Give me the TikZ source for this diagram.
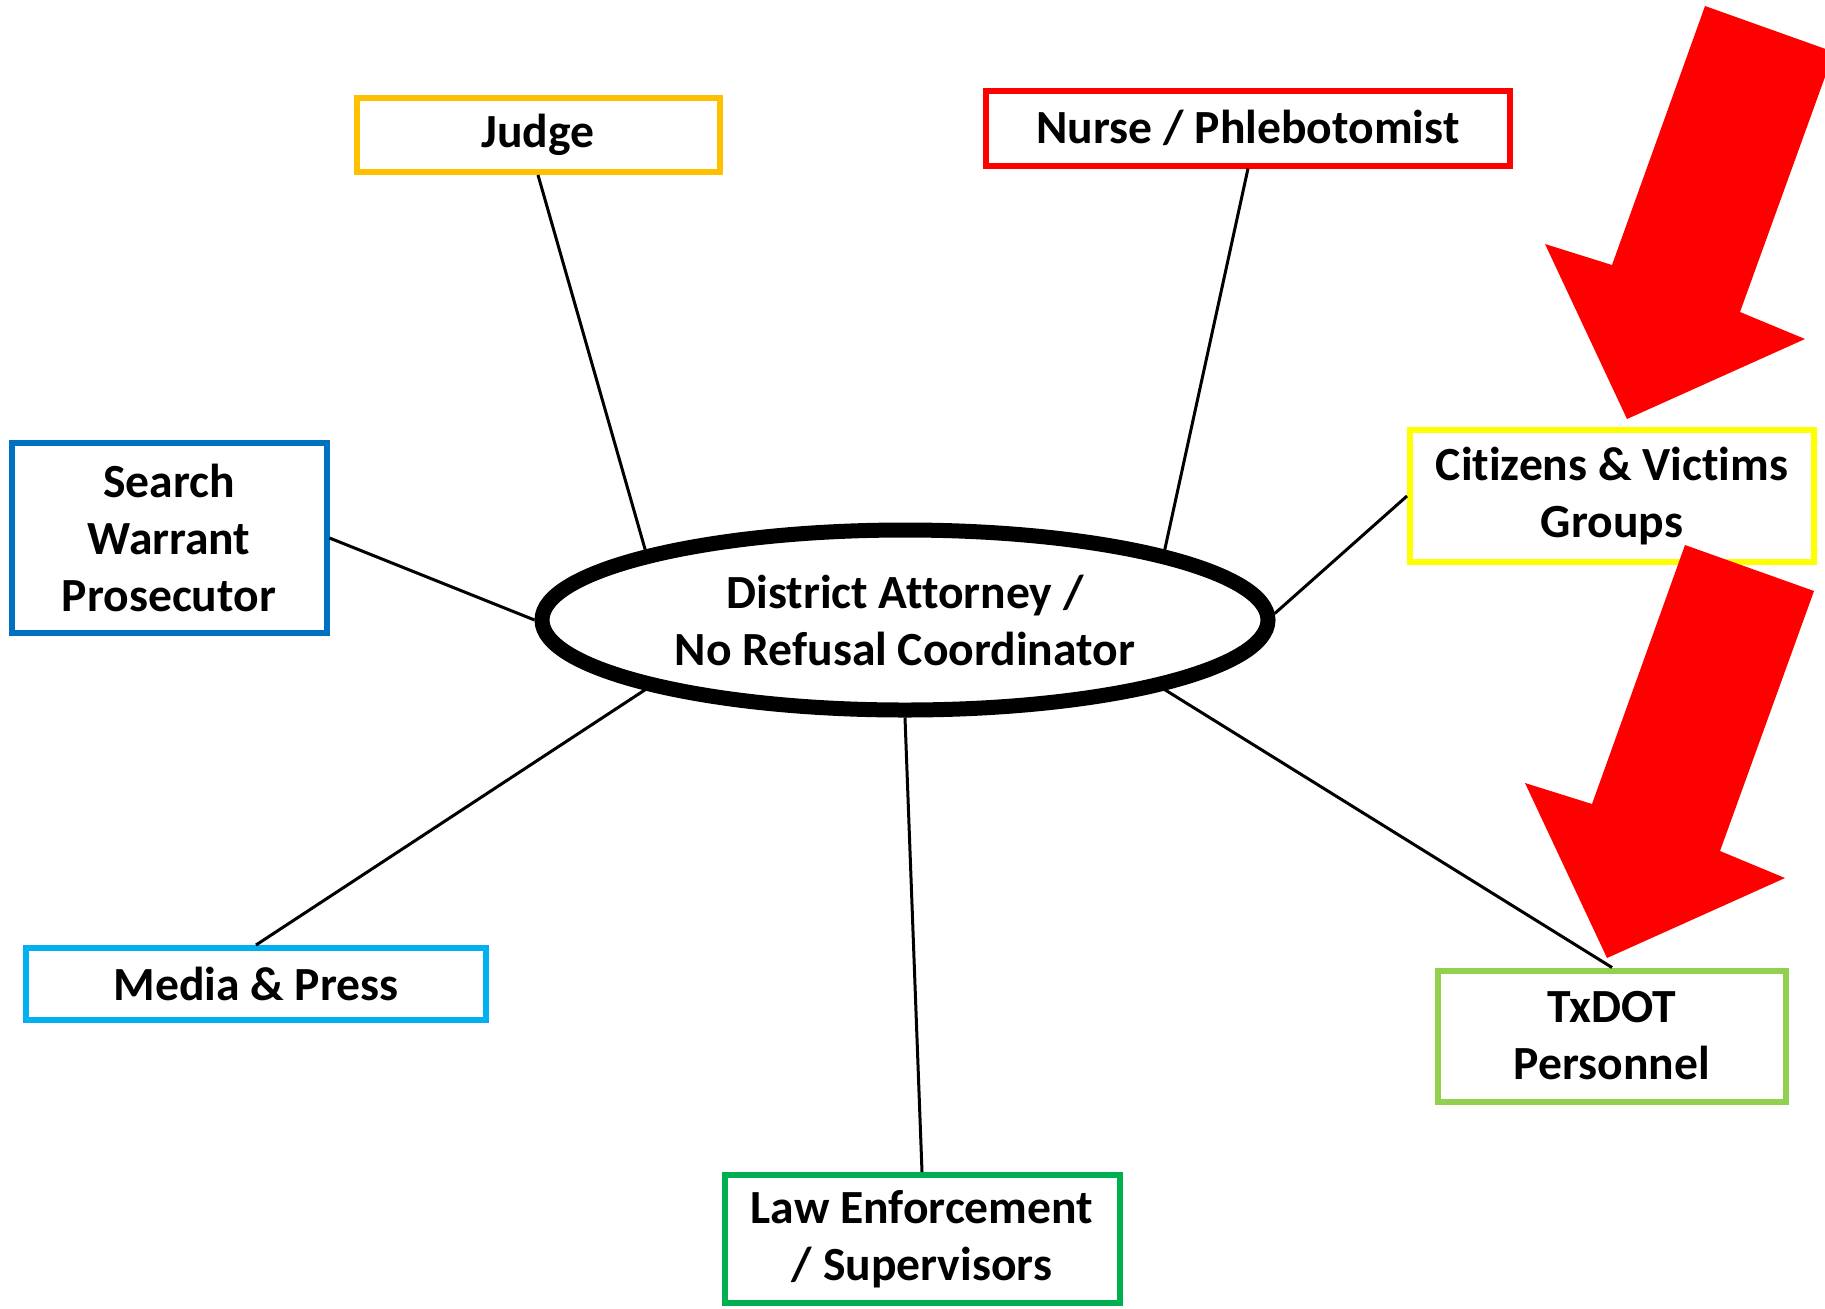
\documentclass[tikz,border=0pt]{standalone}
\usepackage{fontspec}
\setmainfont{Carlito}[Ligatures={NoCommon}]
\usetikzlibrary{shapes.geometric}
\definecolor{judgec}{HTML}{FFC000}
\definecolor{nursec}{HTML}{FF0000}
\definecolor{searchc}{HTML}{0070C0}
\definecolor{citizc}{HTML}{FFFF00}
\definecolor{mediac}{HTML}{00B0F0}
\definecolor{lawc}{HTML}{00B050}
\definecolor{txdotc}{HTML}{92D050}
\begin{document}
\begin{tikzpicture}[x=0.5pt,y=-0.5pt,
  lbl/.style={font=\bfseries\fontsize{23.8}{28.5}\selectfont},
  box/.style={draw=#1, line width=3pt, rectangle, align=center, lbl, inner sep=0pt, fill=white},
  link/.style={line width=1.5pt, draw=black},
  bigarrow/.style={fill=red, draw=none}]
\useasboundingbox (0,0) rectangle (1825,1308);
\clip (0,0) rectangle (1825,1308);
\fill[white] (0,0) rectangle (1825,1308);
% boxes
\node[box=judgec, minimum width=181.5pt, minimum height=37pt] (judge) at (538,135) {Judge};
\node[box=nursec, minimum width=262pt, minimum height=37.5pt] (nurse) at (1248,128) {Nurse / Phlebotomist};
\node[box=searchc, minimum width=157.5pt, minimum height=95pt] (search) at (169,538) {Search\\Warrant\\Prosecutor};
\node[box=citizc, minimum width=202pt, minimum height=66pt] (citiz) at (1612,496) {Citizens \& Victims\\Groups};
\node[box=mediac, minimum width=230pt, minimum height=36pt] (media) at (256,984) {Media \& Press};
\node[box=lawc, minimum width=197.5pt, minimum height=64pt] (law) at (922,1239) {Law Enforcement\\/ Supervisors};
\node[box=txdotc, minimum width=174pt, minimum height=65.5pt] (txdot) at (1612,1036) {TxDOT\\Personnel};
% central ellipse
\node[ellipse, draw=black, line width=7.5pt, minimum width=363pt, minimum height=90pt, inner sep=0pt, align=center, lbl, fill=white] (da) at (905,620) {District Attorney /\\No Refusal Coordinator};
% red arrows
\fill[bigarrow] (1705,6) -- (1612,265) -- (1545,244) -- (1627,419) -- (1805,339) -- (1740,312) -- (1834,52) -- cycle;
\begin{scope}[shift={(-20,539)}]
\fill[bigarrow] (1705,6) -- (1612,265) -- (1545,244) -- (1627,419) -- (1805,339) -- (1740,312) -- (1834,52) -- cycle;
\end{scope}
% connectors
\draw[link] (judge.south) -- (da.165);
\draw[link] (nurse.south) -- (da.15);
\draw[link] (search.east) -- (da.180);
\draw[link] (citiz.west) -- (da.1);
\draw[link] (media.north) -- (da.195);
\draw[link] (law.north) -- (da.270);
\draw[link] (txdot.north) -- (da.345);
\end{tikzpicture}
\end{document}
